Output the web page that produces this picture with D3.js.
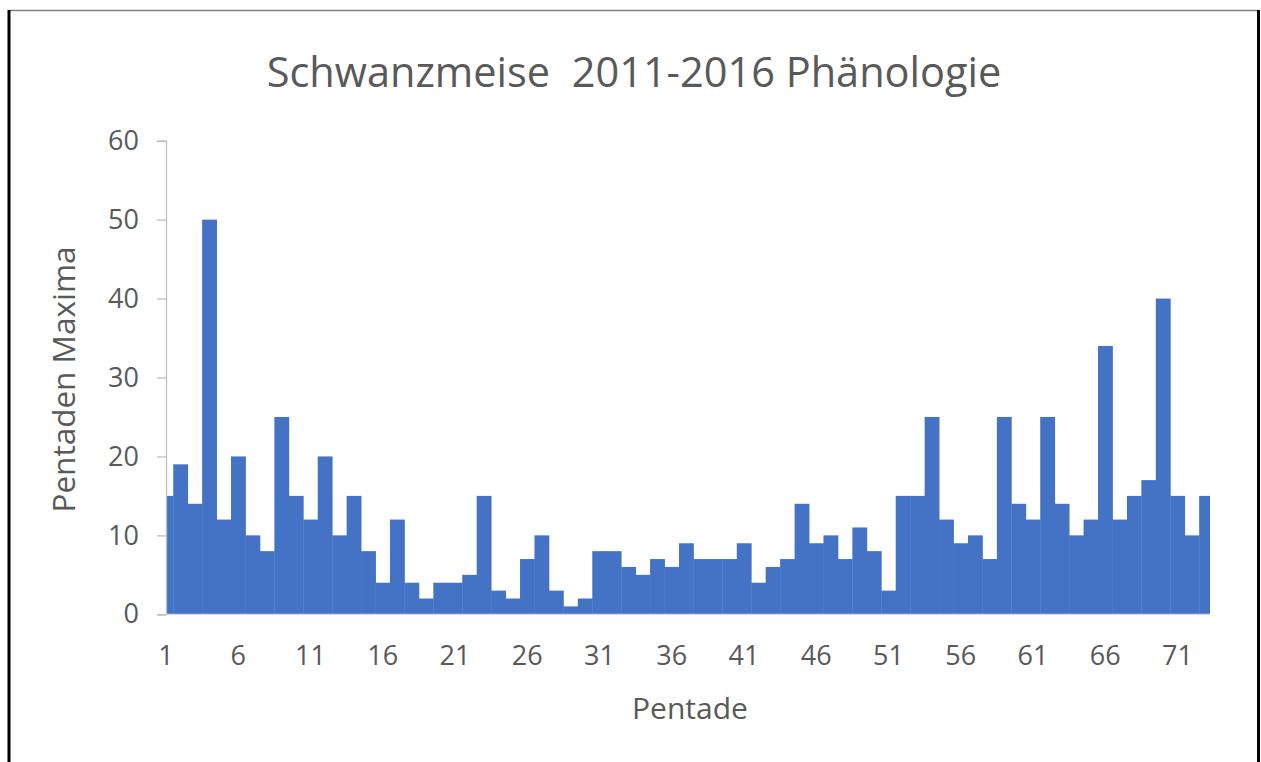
<!DOCTYPE html>
<html>
<head>
<meta charset="utf-8">
<script src="https://cdn.jsdelivr.net/npm/d3@7"></script>
<style>
  body { margin: 0; background: #fff; }
  text { font-family: "Open Sans", sans-serif; fill: #595959; }
</style>
</head>
<body>
<main></main>
<script>
const pentades = [1,2,3,4,5,6,7,8,9,10,11,12,13,14,15,16,17,18,19,20,21,22,23,24,25,26,27,28,29,30,31,32,33,34,35,36,37,38,39,40,41,42,43,44,45,46,47,48,49,50,51,52,53,54,55,56,57,58,59,60,61,62,63,64,65,66,67,68,69,70,71,72,73];
const maxima = [15,19,14,50,12,20,10,8,25,15,12,20,10,15,8,4,12,4,2,4,4,5,15,3,2,7,10,3,1,2,8,8,6,5,7,6,9,7,7,7,9,4,6,7,14,9,10,7,11,8,3,15,15,25,12,9,10,7,25,14,12,25,14,10,12,34,12,15,17,40,15,10,15];
const xTickLabels = [1,6,11,16,21,26,31,36,41,46,51,56,61,66,71];
const yTicks = [0,10,20,30,40,50,60];

const title = "Schwanzmeise  2011-2016 Phänologie";
const xTitle = "Pentade";
const yTitle = "Pentaden Maxima";

function graph() {
	const w = 1261,
	h = 762,
	left = 166,
	right = 1210,
	top = 140.7,
	bottom = 614.3,
	step = 14.45;

	const svg = d3.select("main")
		.append("svg")
		.attr("width", w)
		.attr("height", h)
		.style("display", "block");

	// frame around the chart
	svg.append("line")
		.attr("x1", 9).attr("x2", 1258).attr("y1", 10.5).attr("y2", 10.5)
		.attr("stroke", "#7f7f7f").attr("stroke-width", 1.5);
	svg.append("line")
		.attr("x1", 9).attr("x2", 9).attr("y1", 10).attr("y2", h)
		.attr("stroke", "#000").attr("stroke-width", 3);
	svg.append("line")
		.attr("x1", 1258.5).attr("x2", 1258.5).attr("y1", 10).attr("y2", h)
		.attr("stroke", "#000").attr("stroke-width", 3);

	const xScale = d3.scaleBand()
		.domain(pentades)
		.range([left - step / 2, left - step / 2 + step * pentades.length])
		.padding(0);

	const yScale = d3.scaleLinear()
		.domain([0, 60])
		.range([bottom, top]);

	svg.append("clipPath")
		.attr("id", "plot")
		.append("rect")
		.attr("x", left)
		.attr("y", top - 5)
		.attr("width", right - left)
		.attr("height", bottom - top + 5);

	//Bars
	svg.append("g")
		.attr("clip-path", "url(#plot)")
		.selectAll("rect")
		.data(pentades)
		.enter()
		.append("rect")
		.attr("x", (d) => xScale(d))
		.attr("y", (d, i) => yScale(maxima[i]))
		.attr("width", xScale.bandwidth() + 0.4)
		.attr("height", (d, i) => yScale(0) - yScale(maxima[i]))
		.attr("fill", "#4472c4");

	//Y Axis
	const yAxis = d3.axisLeft(yScale)
		.tickValues(yTicks)
		.tickSize(9)
		.tickPadding(18);
	const gy = svg.append("g")
		.attr("transform", "translate(" + left + ",0)")
		.call(yAxis);
	gy.select(".domain").attr("stroke", "#bfbfbf").attr("stroke-width", 1.3);
	gy.selectAll(".tick line").attr("stroke", "#bfbfbf").attr("stroke-width", 1.3);
	gy.selectAll(".tick text")
		.attr("font-size", 27)
		.attr("font-family", "Open Sans")
		.attr("fill", "#595959");

	//X Axis
	svg.append("line")
		.attr("x1", left).attr("x2", right)
		.attr("y1", bottom).attr("y2", bottom)
		.attr("stroke", "#d9d9d9").attr("stroke-width", 1.3);

	svg.append("g")
		.selectAll("text")
		.data(xTickLabels)
		.enter()
		.append("text")
		.attr("x", (d) => xScale(d) + xScale.bandwidth() / 2)
		.attr("y", 665)
		.attr("text-anchor", "middle")
		.attr("font-size", 27)
		.text((d) => d);

	svg.append("text")
		.attr("x", (left + right) / 2 + 2)
		.attr("y", 719)
		.attr("text-anchor", "middle")
		.attr("font-size", 30)
		.text(xTitle);

	svg.append("text")
		.attr("transform", "translate(75," + ((top + bottom) / 2 + 2) + ") rotate(-90)")
		.attr("text-anchor", "middle")
		.attr("font-size", 31.5)
		.text(yTitle);

	//Title
	svg.append("text")
		.attr("x", 634)
		.attr("y", 87)
		.attr("text-anchor", "middle")
		.attr("font-size", 41.5)
		.attr("fill", "#404040")
		.style("white-space", "pre")
		.text(title);
}

graph();
</script>
</body>
</html>
